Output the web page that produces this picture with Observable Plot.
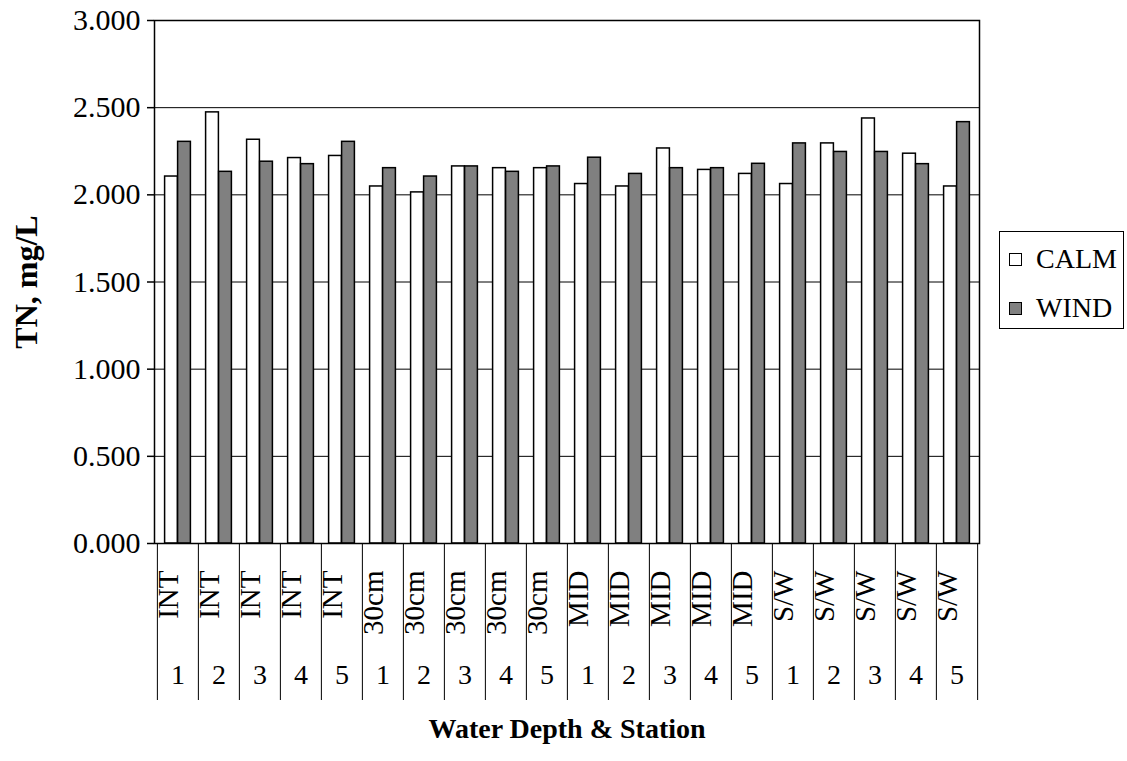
<!DOCTYPE html>
<html><head><meta charset="utf-8">
<script src="https://cdn.jsdelivr.net/npm/d3@7"></script>
<script src="https://cdn.jsdelivr.net/npm/@observablehq/plot@0.6"></script>
<style>
body{margin:0;background:#fff;}
#wrap{position:relative;width:1127px;height:761px;font-family:"Liberation Serif","Times New Roman",serif;}
#legend{position:absolute;left:999px;top:231px;width:125px;height:98px;border:1px solid #000;box-sizing:border-box;background:#fff;}
.item{position:absolute;left:9px;display:flex;align-items:center;font-family:"Liberation Serif","Times New Roman",serif;font-size:28px;line-height:28px;color:#000;}
.sw{width:13px;height:13px;border:1px solid #000;margin-right:14px;box-sizing:border-box;}
</style></head>
<body><div id="wrap"><div id="legend"></div></div>
<script>
const depths = ["INT","INT","INT","INT","INT","30cm","30cm","30cm","30cm","30cm","MID","MID","MID","MID","MID","S/W","S/W","S/W","S/W","S/W"];
const stations = [1,2,3,4,5,1,2,3,4,5,1,2,3,4,5,1,2,3,4,5];
const calm = [2.105,2.473,2.316,2.211,2.223,2.048,2.014,2.163,2.153,2.153,2.062,2.048,2.266,2.143,2.120,2.062,2.295,2.438,2.236,2.048];
const wind = [2.304,2.132,2.190,2.176,2.304,2.153,2.105,2.163,2.132,2.163,2.213,2.120,2.153,2.153,2.178,2.295,2.246,2.246,2.176,2.417];
const yTicks = [0,0.5,1,1.5,2,2.5,3];
const seriesNames = ["CALM","WIND"];
const seriesColors = ["#ffffff","#808080"];

const keys = depths.map((d,i)=>d+" "+stations[i]);
const rows = keys.map((k,i)=>({key:k, depth:depths[i], station:String(stations[i]), calm:calm[i], wind:wind[i]}));

const serif = "'Liberation Serif','Times New Roman',serif";
const chart = Plot.plot({
  width:1127, height:761,
  marginLeft:154, marginRight:148, marginTop:20, marginBottom:218,
  style:{fontFamily:serif, fontSize:"29px", color:"#000", background:"#fff", overflow:"visible"},
  x:{type:"band", domain:keys, padding:0, axis:null},
  y:{domain:[0,3], axis:null},
  marks:[
    Plot.gridY(yTicks,{stroke:"#000", strokeOpacity:1, strokeWidth:1}),
    Plot.barY(rows,{x:"key", y:"calm", fill:seriesColors[0], stroke:"#000", strokeWidth:1.5, insetLeft:7.6, insetRight:20.6}),
    Plot.barY(rows,{x:"key", y:"wind", fill:seriesColors[1], stroke:"#000", strokeWidth:1.5, insetLeft:20.6, insetRight:7.6}),
    Plot.frame({stroke:"#000", strokeWidth:1.5}),
    Plot.axisY(yTicks,{tickSize:7, tickPadding:7, tickFormat:d3.format(".3f"), fontSize:30, fontFamily:serif, label:null, stroke:"#000", strokeWidth:1.5}),
    Plot.axisX(keys,{tickSize:157, tickFormat:()=>"", dx:-20.625, label:null, stroke:"#000", strokeWidth:1}),
    Plot.axisX([keys[keys.length-1]],{tickSize:157, tickFormat:()=>"", dx:20.625, label:null, stroke:"#000", strokeWidth:1}),
    Plot.text(rows,{x:"key", text:"depth", frameAnchor:"bottom", dy:27, rotate:-90, textAnchor:"end", fontSize:29, fontFamily:serif}),
    Plot.text(rows,{x:"key", text:"station", frameAnchor:"bottom", dy:140, fontSize:28, fontFamily:serif}),
    Plot.text(["TN, mg/L"],{text:d=>d, frameAnchor:"left", dx:-128, rotate:-90, textAnchor:"middle", fontWeight:"bold", fontSize:32, fontFamily:serif}),
    Plot.text(["Water Depth & Station"],{text:d=>d, frameAnchor:"bottom", dy:194, textAnchor:"middle", fontWeight:"bold", fontSize:28, fontFamily:serif, letterSpacing:"-0.4px"})
  ]
});
document.getElementById("wrap").prepend(chart);

const legend = document.getElementById("legend");
seriesNames.forEach((name,i)=>{
  const it = document.createElement("div");
  it.className = "item";
  it.style.top = (i===0 ? 13 : 62) + "px";
  const sw = document.createElement("div");
  sw.className = "sw";
  sw.style.background = seriesColors[i];
  it.appendChild(sw);
  const t = document.createElement("span");
  t.textContent = name;
  it.appendChild(t);
  legend.appendChild(it);
});
</script>
</body></html>
